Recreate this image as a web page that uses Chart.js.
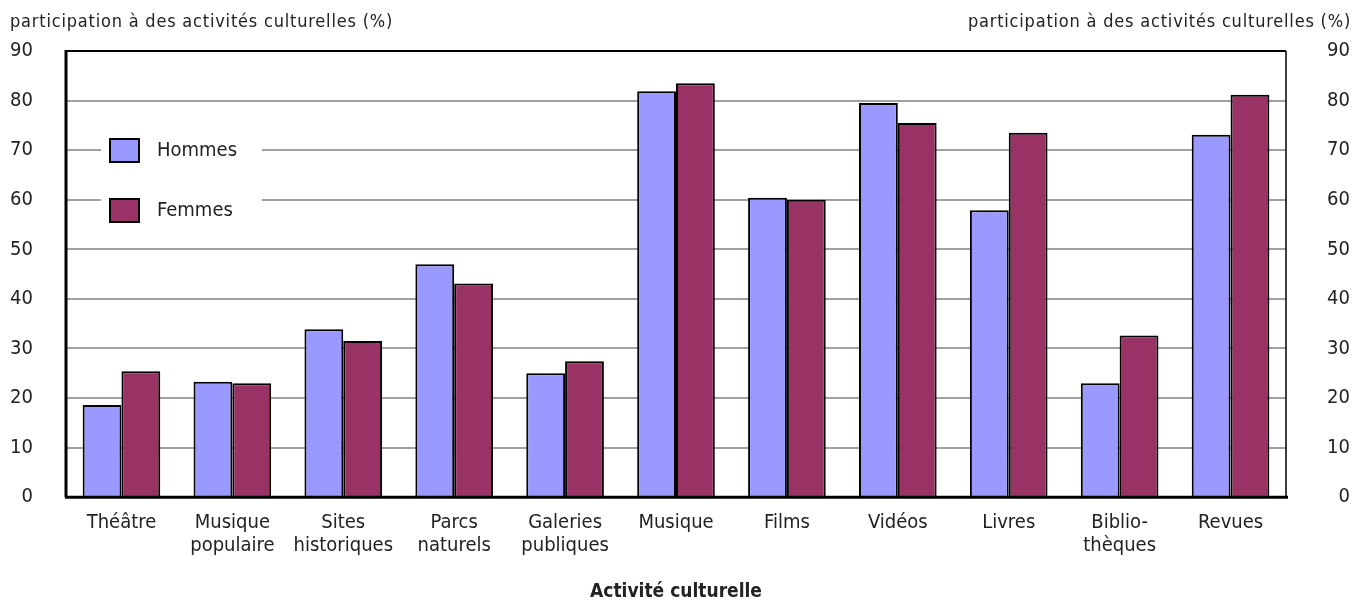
<!DOCTYPE html>
<html>
<head>
<meta charset="utf-8">
<script src="https://cdn.jsdelivr.net/npm/chart.js@4/dist/chart.umd.min.js"></script>
<style>
  html, body { margin: 0; padding: 0; background: #fff; }
  #wrap { width: 1361px; height: 603px; position: relative; }
</style>
</head>
<body>
<div id="wrap"><canvas id="cultureChart"></canvas></div>
<script>
// categories and values
const categories = [
    'Théâtre', ['Musique', 'populaire'], ['Sites', 'historiques'], ['Parcs', 'naturels'],
    ['Galeries', 'publiques'], 'Musique', 'Films', 'Vidéos', 'Livres', ['Biblio-', 'thèques'], 'Revues'
];
const hommes = [18.6, 23.3, 33.9, 47.0, 25.0, 81.9, 60.4, 79.5, 57.9, 23.0, 73.1];
const femmes = [25.4, 23.0, 31.5, 43.1, 27.4, 83.5, 60.0, 75.5, 73.5, 32.6, 81.2];
const yTicks = [0, 10, 20, 30, 40, 50, 60, 70, 80, 90];
const seriesNames = ['Hommes', 'Femmes'];
const seriesColors = ['#9999ff', '#993366'];
const yAxisLabel = 'participation à des activités culturelles (%)';
const xAxisLabel = 'Activité culturelle';

const FONT = "'DejaVu Sans Condensed', 'DejaVu Sans', sans-serif";
const TEXT = '#222';

// titles over both y axes, inline legend, frame
const decorPlugin = {
    id: 'decor',
    afterDatasetsDraw(chart) {
        const ctx = chart.ctx;
        const a = chart.chartArea;
        ctx.save();
        ctx.letterSpacing = '0.8px';
        ctx.font = '18px ' + FONT;
        ctx.fillStyle = TEXT;
        ctx.textBaseline = 'middle';
        ctx.textAlign = 'left';
        ctx.fillText(yAxisLabel, 10, 22);
        ctx.textAlign = 'right';
        ctx.fillText(yAxisLabel, 1351, 22);
        ctx.letterSpacing = '0px';

        // frame
        ctx.strokeStyle = '#000';
        ctx.lineWidth = 2;
        ctx.beginPath();
        ctx.moveTo(a.left, a.top);
        ctx.lineTo(a.right, a.top);
        ctx.stroke();
        ctx.lineWidth = 1.5;
        ctx.beginPath();
        ctx.moveTo(a.right, a.top);
        ctx.lineTo(a.right, a.bottom);
        ctx.stroke();
        ctx.lineWidth = 3;
        ctx.beginPath();
        ctx.moveTo(a.left, a.top - 1);
        ctx.lineTo(a.left, a.bottom);
        ctx.stroke();
        ctx.beginPath();
        ctx.moveTo(a.left - 1, a.bottom);
        ctx.lineTo(a.right + 2, a.bottom);
        ctx.stroke();

        // legend inside plot
        ctx.fillStyle = '#fff';
        ctx.fillRect(101, 118, 161, 118);
        ctx.font = '20px ' + FONT;
        ctx.textAlign = 'left';
        seriesNames.forEach((name, i) => {
            const y = 139 + i * 60;
            ctx.fillStyle = seriesColors[i];
            ctx.fillRect(110, y, 29, 23);
            ctx.lineWidth = 2;
            ctx.strokeStyle = '#000';
            ctx.strokeRect(110, y, 29, 23);
            ctx.fillStyle = TEXT;
            ctx.fillText(name, 157, y + 12);
        });
        ctx.restore();
    }
};

const tickFont = { family: FONT, size: 20, lineHeight: 1.15 };

const ctx = document.getElementById('cultureChart').getContext('2d');
const cultureChart = new Chart(ctx, {
    type: 'bar',
    data: {
        labels: categories,
        datasets: seriesNames.map((name, i) => ({
            label: name,
            data: i === 0 ? hommes : femmes,
            backgroundColor: seriesColors[i],
            borderColor: '#000',
            borderWidth: 2,
            borderSkipped: 'bottom',
            barPercentage: 1,
            categoryPercentage: 0.7,
            yAxisID: 'y'
        }))
    },
    options: {
        responsive: true,
        maintainAspectRatio: false,
        animation: false,
        layout: { padding: { top: 51, right: 11, bottom: 0, left: 0 } },
        plugins: {
            legend: { display: false },
            tooltip: { enabled: false }
        },
        scales: {
            x: {
                grid: { display: false, drawTicks: false },
                border: { display: false },
                ticks: { font: tickFont, color: TEXT, padding: 14, maxRotation: 0, autoSkip: false },
                title: {
                    display: true,
                    text: xAxisLabel,
                    font: { family: FONT, size: 19, weight: 'bold' },
                    color: TEXT,
                    padding: { top: 9, bottom: 0 }
                }
            },
            y: {
                position: 'left',
                min: 0,
                max: 90,
                afterBuildTicks: s => { s.ticks = yTicks.map(v => ({ value: v })); },
                afterFit: s => { s.width = 66; },
                grid: { color: '#a0a0a0', lineWidth: 2, drawTicks: false },
                border: { display: false },
                ticks: { font: { family: FONT, size: 20 }, color: TEXT, padding: 33 }
            },
            y2: {
                position: 'right',
                min: 0,
                max: 90,
                afterBuildTicks: s => { s.ticks = yTicks.map(v => ({ value: v })); },
                afterFit: s => { s.width = 64; },
                grid: { display: false, drawTicks: false },
                border: { display: false },
                ticks: { font: { family: FONT, size: 20 }, color: TEXT, crossAlign: 'far', padding: 29 }
            }
        }
    },
    plugins: [decorPlugin]
});
</script>
</body>
</html>
